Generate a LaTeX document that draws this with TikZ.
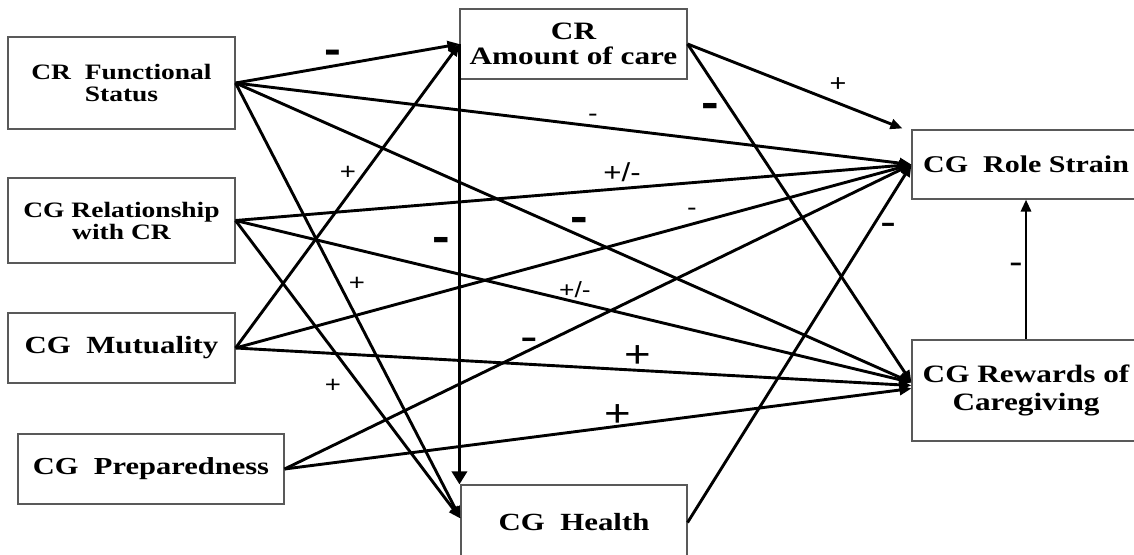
\documentclass[tikz,border=0pt]{standalone}
\usepackage{fontspec}
\newfontfamily\boxfont{Liberation Serif}[FakeStretch=1.25]
\newfontfamily\labfont{Liberation Sans}[FakeStretch=1.2]
\usetikzlibrary{arrows.meta}
\newcommand{\fsz}[2]{\fontsize{#1}{#2}\selectfont}
\begin{document}
\begin{tikzpicture}[x=1pt,y=-1pt,
  box/.style={draw=black!65, line width=1.1pt, inner sep=0pt, align=center},
  arr/.style={line width=2.9pt, -{Triangle[length=12pt,width=10pt]}},
  thickarr/.style={line width=3.6pt, -{Triangle[length=13pt,width=15pt]}},
  lab/.style={inner sep=0pt}
]
\useasboundingbox (0,0) rectangle (1134,554);

% boxes
\node[box, minimum width=227pt, minimum height=92pt, font=\boxfont\bfseries\fsz{22}{22}] (fs) at (121.5,83) {CR~~Functional\\Status};
\node[box, minimum width=227pt, minimum height=85pt, font=\boxfont\bfseries\fsz{22}{22}] (rl) at (121.5,220.5) {CG Relationship\\with CR};
\node[box, minimum width=227pt, minimum height=70pt, font=\boxfont\bfseries\fsz{24.7}{26}] (mu) at (121.5,348) {CG~~Mutuality};
\node[box, minimum width=266pt, minimum height=70pt, font=\boxfont\bfseries\fsz{24.4}{26}] (pr) at (151,469) {CG~~Preparedness};
\node[box, minimum width=227pt, minimum height=70pt, font=\boxfont\bfseries\fsz{25}{25}] (ac) at (573.5,44) {CR\\Amount of care};
\node[box, minimum width=226pt, minimum height=75pt, font=\boxfont\bfseries\fsz{24.7}{26}] (he) at (574,522.5) {CG~~Health};
\node[box, minimum width=228pt, minimum height=69pt, font=\boxfont\bfseries\fsz{24}{26}] (rs) at (1026,164.5) {CG~~Role Strain};
\node[box, minimum width=228pt, minimum height=101pt, font=\boxfont\bfseries\fsz{25}{28}] (rw) at (1026,390.5) {CG Rewards of\\Caregiving};

\coordinate (acrs) at ([xshift=-9pt,yshift=1pt]rs.north west);

% connectors
\draw[arr] (fs.east) -- (ac.west);
\draw[arr] (fs.east) -- (rs.west);
\draw[arr] (fs.east) -- ([yshift=8pt]rw.west);
\draw[arr] (fs.east) -- ([yshift=4pt]he.west);

\draw[arr] (rl.east) -- (rs.west);
\draw[arr] (rl.east) -- ([yshift=8pt]rw.west);
\draw[arr] (rl.east) -- ([yshift=4pt]he.west);

\draw[arr] (mu.east) -- (ac.west);
\draw[arr] (mu.east) -- (rs.west);
\draw[arr] (mu.east) -- ([yshift=5pt]rw.west);

\draw[arr] (pr.east) -- (rs.west);
\draw[arr] (pr.east) -- ([yshift=2pt]rw.west);

\draw[arr] (ac.east) -- (acrs);
\draw[arr] (ac.east) -- ([yshift=8pt]rw.west);
\draw[thickarr] (ac.west) -- (ac.west |- he.north);

\draw[arr] (he.east) -- (rs.west);
\draw[arr] (rw.north) -- (rs.south);

% labels
\node[lab, font=\labfont\bfseries\fsz{42}{42}] (l1) at (333,57) {-};
\node[lab, font=\labfont\fsz{24}{24}] (l2) at (593,118) {-};
\node[lab, font=\labfont\fsz{24}{24}] (l3) at (838,85) {+};
\node[lab, font=\labfont\bfseries\fsz{44}{44}] (l4) at (710,110) {-};
\node[lab, font=\labfont\fsz{26}{26}] (l5) at (622,172) {+/-};
\node[lab, font=\labfont\fsz{24}{24}] (l6) at (692,212) {-};
\node[lab, font=\labfont\bfseries\fsz{44}{44}] (l7) at (579,224) {-};
\node[lab, font=\labfont\bfseries\fsz{44}{44}] (l8) at (441,244) {-};
\node[lab, font=\labfont\fsz{40}{40}] (l9) at (888,229) {-};
\node[lab, font=\labfont\fsz{23}{23}] (l10) at (348,173) {+};
\node[lab, font=\labfont\fsz{23}{23}] (l11) at (357,284) {+};
\node[lab, font=\labfont\fsz{22}{22}] (l12) at (575,290) {+/-};
\node[lab, font=\labfont\fsz{44}{44}] (l13) at (529,345) {-};
\node[lab, font=\labfont\fsz{38}{38}] (l14) at (638,357) {+};
\node[lab, font=\labfont\fsz{23}{23}] (l15) at (333,386) {+};
\node[lab, font=\labfont\fsz{38}{38}] (l16) at (618,416) {+};
\node[lab, font=\labfont\fsz{34}{34}] (l17) at (1016,268) {-};
\end{tikzpicture}
\end{document}
